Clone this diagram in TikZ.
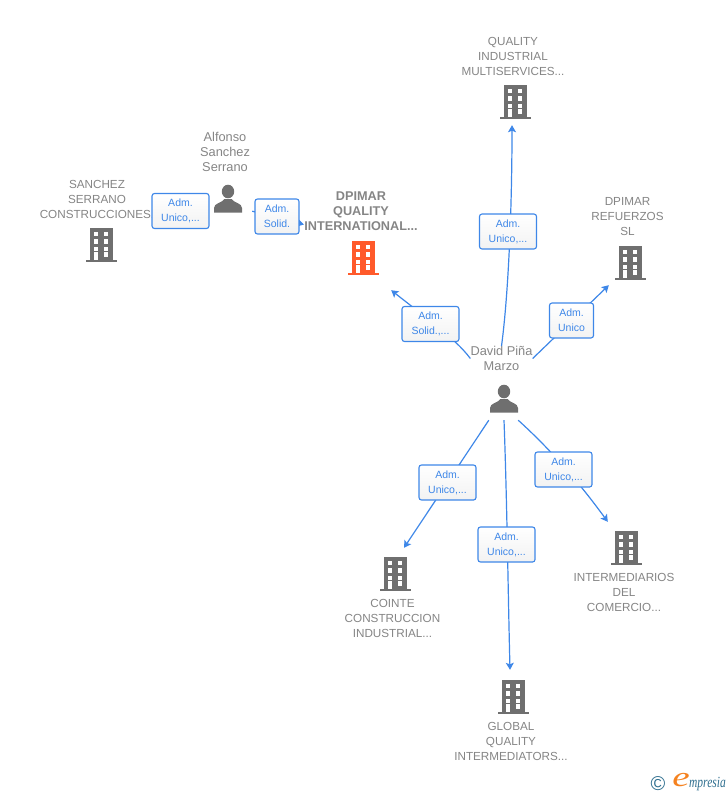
\documentclass[tikz,border=0pt]{standalone}
\usepackage{fontspec}
\usetikzlibrary{arrows.meta}
\setmainfont{Liberation Sans}
\newfontfamily\logofont{Liberation Serif}
\definecolor{linkblue}{HTML}{3E87E8}
\definecolor{labelgray}{HTML}{858585}
\definecolor{icongray}{HTML}{6F6F6F}
\definecolor{iconorange}{HTML}{FF5A2B}
\definecolor{logoteal}{HTML}{2F6F8F}
\definecolor{logoorange}{HTML}{F58220}
\tikzset{
	link/.style={color=linkblue,line width=1.2pt},
	tolink/.style={link,-{Stealth[length=7pt,width=8pt,inset=1.5pt]}},
	rolebox/.style={draw=linkblue,line width=1.1pt,rounded corners=2.5pt,top color=white,bottom color=black!5,
		text=linkblue,font=\fontsize{10.5}{15}\selectfont,align=center,
		minimum height=35pt,inner sep=0pt},
	wide/.style={rolebox,minimum width=57pt},
	narrow/.style={rolebox,minimum width=44pt},
	caption/.style={text=labelgray,font=\fontsize{11.7}{15}\selectfont,align=center,inner sep=0pt},
	personcaption/.style={caption,font=\fontsize{12.8}{15}\selectfont},
	holder/.style={draw=none,inner sep=0pt,minimum width=42pt,minimum height=52pt},
	pics/building/.style={code={
		\fill[#1] (-11.5,-17) rectangle (11.5,15.5);
		\fill[#1] (-15.5,15) rectangle (15.5,17);
		\foreach \y/\h in {-12.7/4,-5.7/4.4,1.7/4.3,7.3/4.4}
			\fill[white] (2.5,\y) rectangle (7.2,\y+\h);
		\foreach \y/\h in {-12.7/4,-5.7/4.4,1.7/4.3,7.3/7.7}
			\fill[white] (-7.5,\y) rectangle (-3.2,\y+\h);
	}},
	pics/person/.style={code={
		\fill[icongray] (0,-7.5) circle[x radius=6.2,y radius=6.8];
		\fill[icongray] (-14,13.5) -- (-14,9) .. controls (-14,4) and (-6,4) .. (-3.5,0)
			-- (3.5,0) .. controls (6,4) and (14,4) .. (14,9) -- (14,13.5) -- cycle;
	}}
}
\begin{document}
\begin{tikzpicture}[x=1pt,y=-1pt]
	\useasboundingbox (0,0) rectangle (728,795);
	
	% people
	\node (alfonso)[draw=none,inner sep=0pt,minimum width=48pt,minimum height=24pt] at (228,199) {};
	\pic at (228,199) {person};
	\node (david)[draw=none,inner sep=0pt,minimum width=30pt,minimum height=42pt] at (504,399) {};
	\pic at (504,399) {person};
	
	% companies
	\node (sanchez)[holder] at (101,245) {};
	\pic at (101,245) {building=icongray};
	\node (dpimar)[holder] at (363,258) {};
	\pic at (363,258) {building=iconorange};
	\node (quality)[holder] at (515,102) {};
	\pic at (515,102) {building=icongray};
	\node (refuerzos)[holder] at (630,263) {};
	\pic at (630,263) {building=icongray};
	\node (cointe)[holder] at (395,574) {};
	\pic at (395,574) {building=icongray};
	\node (interm)[holder] at (626,548) {};
	\pic at (626,548) {building=icongray};
	\node (global)[holder] at (513,697) {};
	\pic at (513,697) {building=icongray};
	
	% captions
	\node (alfonsotxt)[personcaption] at (225,152) {Alfonso\\Sanchez\\Serrano};
	\node (davidtxt)[personcaption] at (501.5,358.5) {David Piña\\Marzo};
	\node (sancheztxt)[caption] at (97,199) {SANCHEZ\\SERRANO\\CONSTRUCCIONES.};
	\node (dpimartxt)[caption,font=\fontsize{12.7}{15}\selectfont\bfseries] at (361,211) {DPIMAR\\QUALITY\\INTERNATIONAL...};
	\node (qualitytxt)[caption] at (513,56) {QUALITY\\INDUSTRIAL\\MULTISERVICES...};
	\node (refuerzostxt)[caption] at (627.5,217) {DPIMAR\\REFUERZOS\\SL};
	\node (cointetxt)[caption] at (392.5,618) {COINTE\\CONSTRUCCION\\INDUSTRIAL...};
	\node (intermtxt)[caption] at (624,592) {INTERMEDIARIOS\\DEL\\COMERCIO...};
	\node (globaltxt)[caption] at (511,741) {GLOBAL\\QUALITY\\INTERMEDIATORS...};
	
	% links, the role boxes go on top of them
	\coordinate (dpimarin) at (304,224.5);
	\draw[tolink] (alfonso.south east)--(dpimarin);
	\draw[tolink] (davidtxt.west) .. controls (455,338) and (425,317) .. ([shift={(7,6)}]dpimar.south east);
	\draw[tolink] (davidtxt.north) .. controls (509,290) and (512,200) .. ([shift={(-3,-3)}]quality.south);
	\draw[tolink] (davidtxt.east)--([shift={(0,-4)}]refuerzos.south west);
	\draw[tolink] (david.south west)--([shift={(9,0)}]cointe.north);
	\draw[tolink] (david.south) .. controls (507,500) and (508,590) .. ([shift={(-3,-1)}]global.north);
	\draw[tolink] ([shift={(-1,0)}]david.south east) .. controls (540,440) and (570,470) .. ([shift={(3,0)}]interm.north west);
	
	% roles
	\node (rolesanchez)[wide] at (180.5,211) {Adm.\\Unico,...};
	\node (roledpimar)[narrow] at (277,216.5) {Adm.\\Solid.};
	\node (roledavid)[wide] at (430.5,324) {Adm.\\Solid.,...};
	\node (rolequality)[wide] at (508,231.5) {Adm.\\Unico,...};
	\node (rolerefuerzos)[narrow] at (571.5,320.5) {Adm.\\Unico};
	\node (rolecointe)[wide] at (447.5,482.5) {Adm.\\Unico,...};
	\node (roleglobal)[wide] at (506.5,544.5) {Adm.\\Unico,...};
	\node (roleinterm)[wide] at (563.5,469.5) {Adm.\\Unico,...};
	
	% logo
	\node (copyr)[text=logoteal,font=\fontsize{20}{20}\selectfont,inner sep=0pt] at (658,784) {©};
	\node (logoe)[text=logoorange,font=\logofont\itshape\fontsize{28}{28}\selectfont,inner sep=0pt,transform shape,xscale=1.4] at (681,780) {e};
	\node (logotxt)[text=logoteal,font=\logofont\itshape\fontsize{11.5}{12}\selectfont,inner sep=0pt,anchor=east,transform shape,yscale=1.35] at (726,784) {mpresia};
\end{tikzpicture}
\end{document}
